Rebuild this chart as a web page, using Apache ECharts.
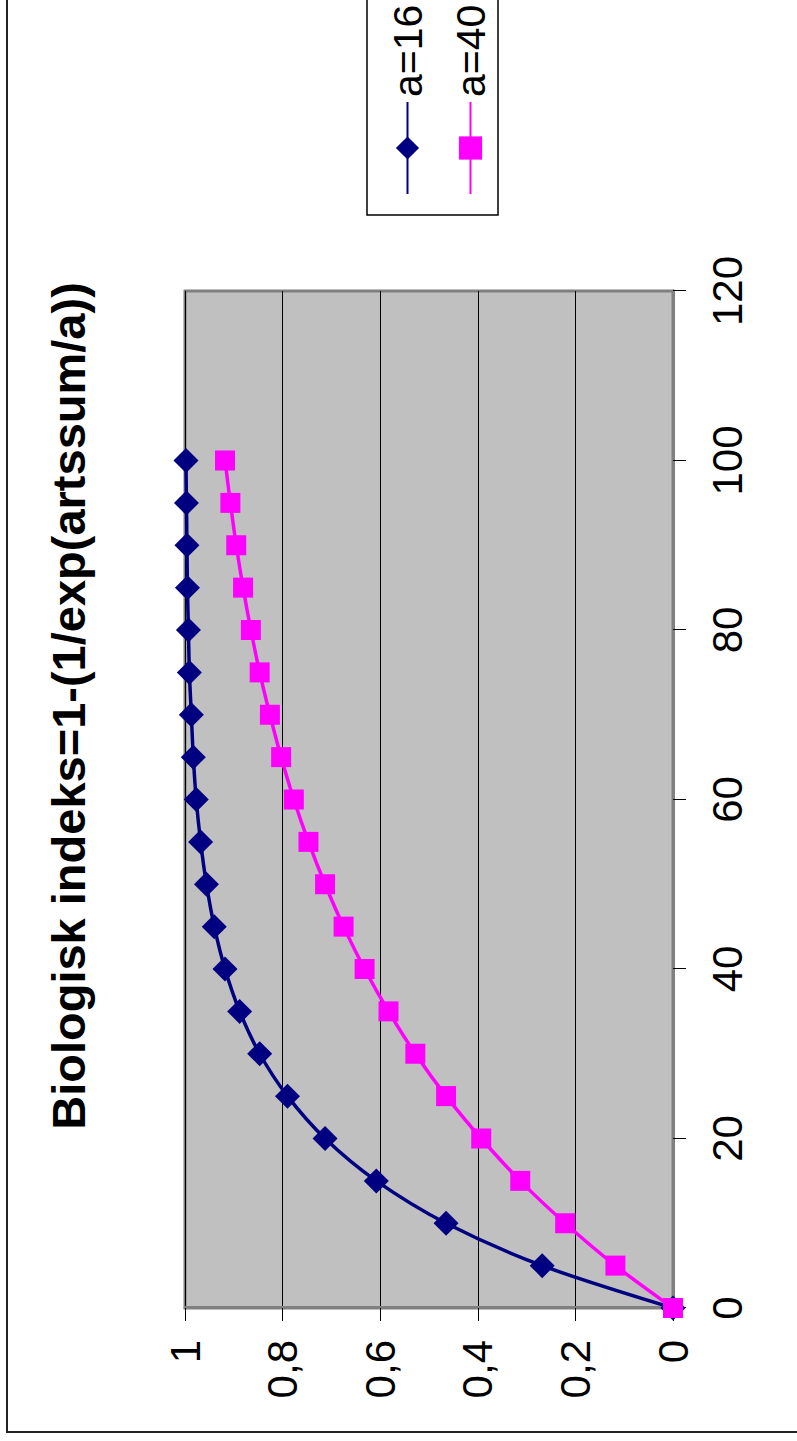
<!DOCTYPE html>
<html><head><meta charset="utf-8">
<script src="https://cdn.jsdelivr.net/npm/echarts@6/dist/echarts.min.js"></script>
<style>
html,body{margin:0;padding:0;width:797px;height:1441px;overflow:hidden;background:#fff;}
#chart{position:absolute;left:0;top:0;width:1441px;height:797px;transform-origin:0 0;transform:translate(0,1441px) rotate(-90deg);}
</style></head><body><div id="chart"></div>
<script>
const titleText = 'Biologisk indeks=1-(1/exp(artssum/a))';
const artssum = [0,5,10,15,20,25,30,35,40,45,50,55,60,65,70,75,80,85,90,95,100];
const a16 = [0,0.268,0.465,0.608,0.713,0.790,0.847,0.888,0.918,0.940,0.956,0.968,0.977,0.983,0.987,0.991,0.993,0.995,0.996,0.997,0.998];
const a40 = [0,0.118,0.221,0.313,0.393,0.465,0.528,0.583,0.632,0.675,0.713,0.747,0.777,0.803,0.826,0.847,0.865,0.881,0.895,0.907,0.918];
const seriesNames = ['a=16','a=40'];
const xTickLabels = ['0','20','40','60','80','100','120'];
const yTickLabels = ['0','0,2','0,4','0,6','0,8','1'];

const FONT = 'Liberation Sans, Arial, sans-serif';
const chart = echarts.init(document.getElementById('chart'), null, {renderer:'svg', width:1441, height:797});
const pairs = vals => artssum.map((x,i)=>[x, vals[i]]);

chart.setOption({
  animation:false,
  backgroundColor:'#fff',
  textStyle:{fontFamily:FONT},
  title:{
    text:titleText, left:730, top:40, textAlign:'center',
    textStyle:{fontSize:47, fontWeight:'bold', color:'#000', fontFamily:FONT}
  },
  graphic:[
    {type:'rect', z:0, shape:{x:9, y:7, width:1600, height:900}, style:{fill:'none', stroke:'#222', lineWidth:2}, silent:true},
    {type:'rect', z:0, shape:{x:1226, y:367, width:400, height:131}, style:{fill:'#fff', stroke:'#000', lineWidth:1.5}, silent:true}
  ],
  legend:{
    orient:'vertical', left:1241, top:382, itemWidth:92, itemHeight:29, itemGap:22,
    textStyle:{fontSize:41, color:'#000', fontFamily:FONT},
    data:seriesNames
  },
  grid:{left:133, right:291, top:185, bottom:124, show:true, backgroundColor:'#c0c0c0', borderColor:'#808080', borderWidth:3},
  xAxis:{
    type:'value', min:0, max:120, interval:20,
    axisLine:{show:true, onZero:false, lineStyle:{color:'#808080', width:3}},
    axisTick:{show:true, length:13, lineStyle:{color:'#000', width:1}},
    axisLabel:{fontSize:42, color:'#000', margin:33, fontFamily:FONT,
      formatter:v=>xTickLabels[Math.round(v/20)]},
    splitLine:{show:false}
  },
  yAxis:{
    type:'value', min:0, max:1, interval:0.2,
    axisLine:{show:true, lineStyle:{color:'#808080', width:3}},
    axisTick:{show:true, length:13, lineStyle:{color:'#000', width:1}},
    axisLabel:{fontSize:42, color:'#000', margin:32, fontFamily:FONT,
      formatter:v=>yTickLabels[Math.round(v/0.2)]},
    splitLine:{show:true, lineStyle:{color:'#000', width:1}}
  },
  series:[
    {name:seriesNames[0], type:'line', data:pairs(a16), smooth:0.3, symbol:'diamond', symbolSize:25,
      itemStyle:{color:'#000080'}, lineStyle:{color:'#000080', width:3.5}, z:3},
    {name:seriesNames[1], type:'line', data:pairs(a40), smooth:0.3, symbol:'rect', symbolSize:20,
      itemStyle:{color:'#ff00ff'}, lineStyle:{color:'#ff00ff', width:3.5}, z:4}
  ]
});
</script></body></html>
